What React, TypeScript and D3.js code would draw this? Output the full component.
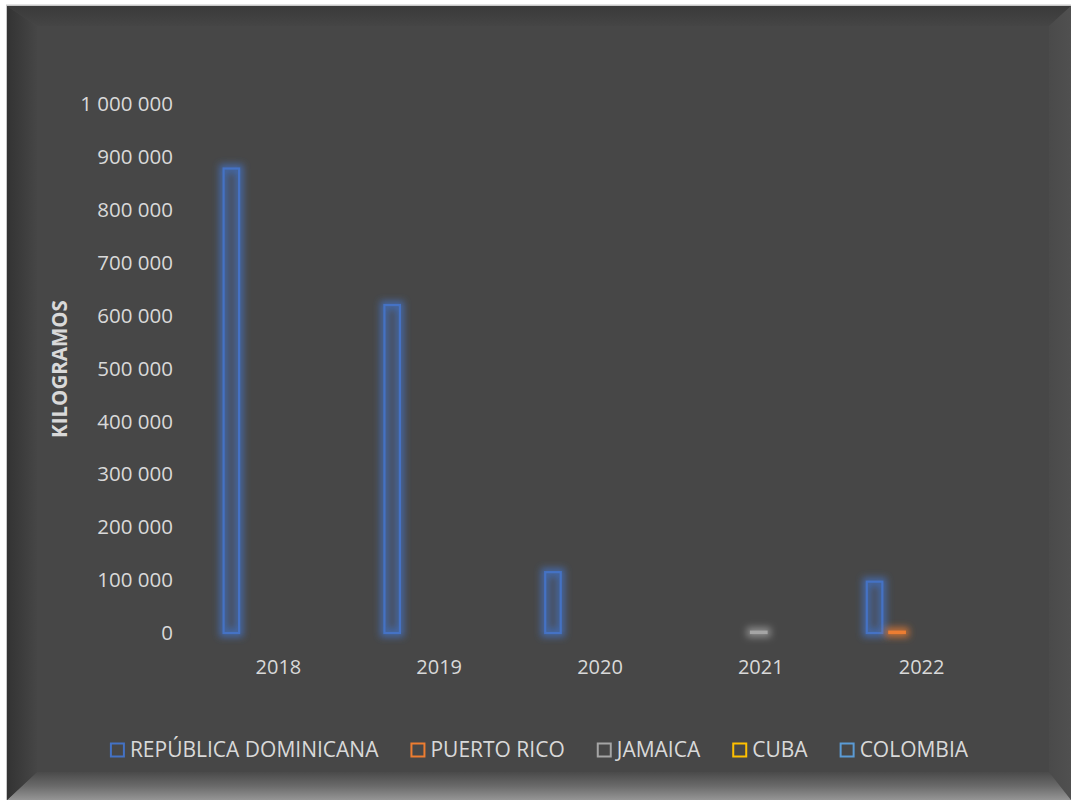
import React, { useEffect, useRef } from "react";
import * as d3 from "d3";

const years = ["2018", "2019", "2020", "2021", "2022"];
const seriesNames = ["REPÚBLICA DOMINICANA", "PUERTO RICO", "JAMAICA", "CUBA", "COLOMBIA"];
const seriesColors = ["#4472C4", "#ED7D31", "#A5A5A5", "#FFC000", "#5B9BD5"];
const repDominicana = [878000, 620000, 115000, 0, 97000];
const puertoRico = [0, 0, 0, 0, 2500];
const jamaica = [0, 0, 0, 2500, 0];
const cuba = [0, 0, 0, 0, 0];
const colombia = [0, 0, 0, 0, 0];
const yTicks = [0, 100000, 200000, 300000, 400000, 500000, 600000, 700000, 800000, 900000, 1000000];

const W = 1071;
const H = 800;
const FONT = "'Open Sans', sans-serif";
const TEXT = "#D9D9D9";

export default function App() {
  const ref = useRef<SVGSVGElement>(null);

  useEffect(() => {
    const svg = d3.select(ref.current);
    svg.selectAll("*").remove();
    const values = [repDominicana, puertoRico, jamaica, cuba, colombia];

    const defs = svg.append("defs");
    seriesColors.forEach((c, i) => {
      const f = defs.append("filter").attr("id", "glow" + i)
        .attr("filterUnits", "userSpaceOnUse").attr("x", 0).attr("y", 0).attr("width", W).attr("height", H);
      f.append("feMorphology").attr("in", "SourceAlpha").attr("operator", "dilate").attr("radius", 2.5).attr("result", "d");
      f.append("feGaussianBlur").attr("in", "d").attr("stdDeviation", 3.5).attr("result", "b");
      f.append("feFlood").attr("flood-color", c).attr("flood-opacity", 0.75).attr("result", "fl");
      f.append("feComposite").attr("in", "fl").attr("in2", "b").attr("operator", "in").attr("result", "g");
      const m = f.append("feMerge");
      m.append("feMergeNode").attr("in", "g");
      m.append("feMergeNode").attr("in", "SourceGraphic");
    });
    const gl = defs.append("linearGradient").attr("id", "gLeft").attr("x1", 0).attr("x2", 1).attr("y1", 0).attr("y2", 0);
    gl.append("stop").attr("offset", 0).attr("stop-color", "#333333");
    gl.append("stop").attr("offset", 1).attr("stop-color", "#464646");
    const gt = defs.append("linearGradient").attr("id", "gTop").attr("x1", 0).attr("x2", 0).attr("y1", 0).attr("y2", 1);
    gt.append("stop").attr("offset", 0).attr("stop-color", "#3a3a3a");
    gt.append("stop").attr("offset", 1).attr("stop-color", "#454545");
    const gr = defs.append("linearGradient").attr("id", "gRight").attr("x1", 0).attr("x2", 1).attr("y1", 0).attr("y2", 0);
    gr.append("stop").attr("offset", 0).attr("stop-color", "#4a4a4a");
    gr.append("stop").attr("offset", 1).attr("stop-color", "#505050");
    const gb = defs.append("linearGradient").attr("id", "gBot").attr("x1", 0).attr("x2", 0).attr("y1", 0).attr("y2", 1);
    gb.append("stop").attr("offset", 0).attr("stop-color", "#4a4a4a");
    gb.append("stop").attr("offset", 0.5).attr("stop-color", "#6a6a6a");
    gb.append("stop").attr("offset", 1).attr("stop-color", "#959595");

    // background and bevel frame
    svg.append("rect").attr("x", 0).attr("y", 0).attr("width", W).attr("height", H).attr("fill", "#ffffff");
    const ox0 = 7, oy0 = 6, ox1 = W, oy1 = H;
    const L = 30, T = 20, R = 22, B = 28;
    svg.append("rect").attr("x", 6).attr("y", 4.5).attr("width", W - 6).attr("height", H).attr("fill", "#c8c8c8");
    svg.append("rect").attr("x", ox0).attr("y", oy0).attr("width", ox1 - ox0).attr("height", oy1 - oy0).attr("fill", "#474747");
    const ix0 = ox0 + L, iy0 = oy0 + T, ix1 = ox1 - R, iy1 = oy1 - B;
    const poly = (pts: number[][], fill: string) =>
      svg.append("polygon").attr("points", pts.map((p) => p.join(",")).join(" ")).attr("fill", fill);
    poly([[ox0, oy0], [ox1, oy0], [ix1, iy0], [ix0, iy0]], "url(#gTop)");
    poly([[ox1, oy0], [ox1, oy1], [ix1, iy1], [ix1, iy0]], "url(#gRight)");
    poly([[ox0, oy1], [ox1, oy1], [ix1, iy1], [ix0, iy1]], "url(#gBot)");
    poly([[ox0, oy0], [ix0, iy0], [ix0, iy1], [ox0, oy1]], "url(#gLeft)");

    // scales
    const y = d3.scaleLinear().domain([0, 1000000]).range([633, 104]);
    const x0 = d3.scaleBand().domain(years).range([198, 1002]).paddingInner(0).paddingOuter(0);
    const x1 = d3.scaleBand<number>().domain(d3.range(seriesNames.length)).range([0, x0.bandwidth()])
      .paddingInner(0.222).paddingOuter(1.183).align(0.462);

    // y axis labels
    const fmt = (v: number) => d3.format(",")(v).replace(/,/g, " ");
    svg.append("g").selectAll("text").data(yTicks).join("text")
      .attr("x", 173).attr("y", (d) => y(d)).attr("dy", "0.35em")
      .attr("text-anchor", "end").attr("fill", TEXT)
      .style("font-family", FONT).style("font-size", "20.5px")
      .text((d) => fmt(d));

    // axis title
    svg.append("text").attr("transform", "translate(67,369) rotate(-90)")
      .attr("text-anchor", "middle").attr("fill", TEXT)
      .style("font-family", FONT).style("font-size", "20.5px").style("font-weight", "bold")
      .text("KILOGRAMOS");

    // x labels
    svg.append("g").selectAll("text").data(years).join("text")
      .attr("x", (d) => (x0(d) as number) + x0.bandwidth() / 2).attr("y", 674)
      .attr("text-anchor", "middle").attr("fill", TEXT)
      .style("font-family", FONT).style("font-size", "20px")
      .text((d) => d);

    // bars
    const bars: { year: string; s: number; v: number }[] = [];
    years.forEach((yr, yi) => values.forEach((arr, s) => { if (arr[yi] > 0) bars.push({ year: yr, s, v: arr[yi] }); }));
    svg.append("g").selectAll("rect").data(bars).join("rect")
      .attr("x", (d) => (x0(d.year) as number) + (x1(d.s) as number) + 1)
      .attr("width", x1.bandwidth() - 2)
      .attr("y", (d) => y(d.v))
      .attr("height", (d) => Math.max(0.5, y(0) - y(d.v)))
      .attr("fill", (d) => seriesColors[d.s]).attr("fill-opacity", 0.06)
      .attr("stroke", (d) => seriesColors[d.s]).attr("stroke-width", 2.2)
      .attr("filter", (d) => `url(#glow${d.s})`);

    // legend
    const lg = svg.append("g");
    const items = lg.selectAll("g").data(seriesNames).join("g");
    items.append("rect").attr("x", 1).attr("y", -6.5).attr("width", 13).attr("height", 13)
      .attr("fill", "none").attr("stroke", (d, i) => seriesColors[i]).attr("stroke-width", 2);
    items.append("text").attr("x", 20).attr("y", 0).attr("dy", "0.35em").attr("fill", TEXT)
      .style("font-family", FONT).style("font-size", "21px").text((d) => d);
    const widths: number[] = [];
    items.each(function () {
      const t = d3.select(this).select("text").node() as SVGTextElement;
      widths.push(20 + t.getComputedTextLength());
    });
    const gap = 32;
    const total = d3.sum(widths) + gap * (widths.length - 1);
    let cx = (ox0 + ox1) / 2 - total / 2;
    items.attr("transform", (d, i) => {
      const tx = cx;
      cx += widths[i] + gap;
      return `translate(${tx},750)`;
    });
  }, []);

  return (
    <div style={{ position: "fixed", left: 0, top: 0 }}>
      <svg ref={ref} width={W} height={H} style={{ display: "block" }} />
    </div>
  );
}
